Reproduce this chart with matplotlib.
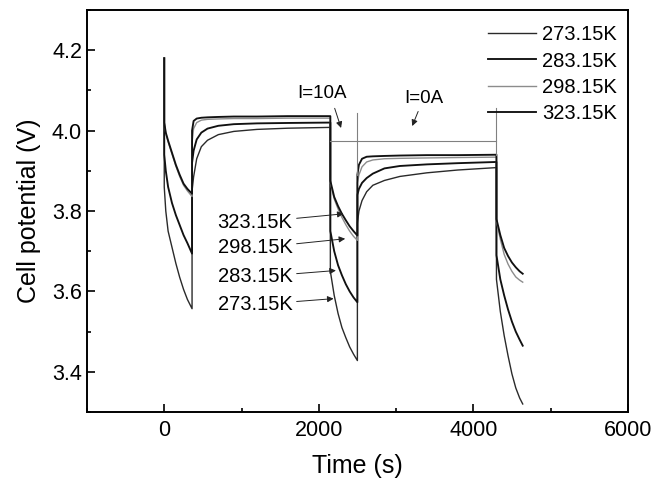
import matplotlib
matplotlib.use("Agg")
import matplotlib.pyplot as plt
from matplotlib.ticker import MultipleLocator

plt.rcParams["font.family"] = ["Liberation Sans", "DejaVu Sans"]

# time axis shared by all curves (repeated times give the vertical steps)
time_s = [0, 0, 20, 50, 100, 150, 200, 250, 300, 360,
          360, 380, 420, 480, 560, 700, 900, 1200, 1600, 2150,
          2150, 2200, 2250, 2300, 2350, 2400, 2450, 2500,
          2500, 2520, 2560, 2620, 2700, 2850, 3050, 3400, 3800, 4300,
          4300, 4350, 4400, 4450, 4500, 4550, 4600, 4640]

v_273 = [4.18, 3.86, 3.80, 3.75, 3.71, 3.67, 3.635, 3.605, 3.58, 3.557,
         3.85, 3.885, 3.93, 3.96, 3.976, 3.99, 3.998, 4.003, 4.006, 4.008,
         3.65, 3.59, 3.545, 3.51, 3.485, 3.462, 3.444, 3.428,
         3.77, 3.80, 3.826, 3.848, 3.864, 3.876, 3.886, 3.895, 3.902, 3.908,
         3.63, 3.55, 3.49, 3.44, 3.395, 3.36, 3.335, 3.32]
v_283 = [4.18, 3.94, 3.90, 3.86, 3.82, 3.79, 3.765, 3.74, 3.72, 3.694,
         3.92, 3.95, 3.978, 3.995, 4.005, 4.012, 4.016, 4.018, 4.019, 4.020,
         3.75, 3.70, 3.665, 3.64, 3.618, 3.60, 3.585, 3.573,
         3.84, 3.855, 3.87, 3.882, 3.893, 3.906, 3.912, 3.916, 3.919, 3.922,
         3.69, 3.63, 3.59, 3.555, 3.525, 3.50, 3.48, 3.465]
v_298 = [4.18, 4.02, 3.993, 3.972, 3.942, 3.912, 3.886, 3.864, 3.85, 3.836,
         3.97, 4.005, 4.020, 4.026, 4.028, 4.029, 4.030, 4.030, 4.031, 4.031,
         3.87, 3.83, 3.805, 3.784, 3.766, 3.75, 3.737, 3.727,
         3.87, 3.89, 3.91, 3.922, 3.927, 3.930, 3.931, 3.932, 3.933, 3.934,
         3.775, 3.73, 3.692, 3.668, 3.65, 3.636, 3.628, 3.623]
v_323 = [4.18, 4.02, 3.995, 3.975, 3.945, 3.915, 3.89, 3.868, 3.855, 3.843,
         4.00, 4.024, 4.030, 4.032, 4.033, 4.034, 4.035, 4.035, 4.036, 4.036,
         3.875, 3.835, 3.812, 3.793, 3.777, 3.762, 3.75, 3.739,
         3.89, 3.915, 3.93, 3.935, 3.936, 3.937, 3.938, 3.939, 3.939, 3.94,
         3.78, 3.74, 3.708, 3.688, 3.672, 3.66, 3.65, 3.644]

labels = ["273.15K", "283.15K", "298.15K", "323.15K"]
series = [v_273, v_283, v_298, v_323]
colors = ["#2a2a2a", "#111111", "#8c8c8c", "#111111"]
widths = [1.0, 1.35, 1.0, 1.35]

# arrow labels on the second pulse: (text anchor), (arrow tip)
arrow_labels = ["323.15K", "298.15K", "283.15K", "273.15K"]
arrow_text_xy = [(1660, 3.772), (1660, 3.708), (1660, 3.636), (1660, 3.567)]
arrow_tip_xy = [(2321, 3.793), (2342, 3.731), (2222, 3.652), (2192, 3.582)]

fig = plt.figure(figsize=(6.56, 4.88), dpi=100)
ax = fig.add_axes([0.1326, 0.1557, 0.8244, 0.8238])

for v, lab, c, w in zip(series, labels, colors, widths):
    ax.plot(time_s, v, color=c, lw=w, label=lab)

# current markers
mark_c = "#808080"
ax.plot([2150, 4300], [3.973, 3.973], color=mark_c, lw=0.8)
ax.plot([2500, 2500], [4.045, 3.89], color=mark_c, lw=0.8)
ax.plot([4300, 4300], [4.055, 3.94], color=mark_c, lw=0.8)

ax.text(2043, 4.092, "I=10A", fontsize=13.5, ha="center", va="center")
ax.annotate("", xy=(2300, 4.0), xytext=(2195, 4.062),
            arrowprops=dict(arrowstyle="-|>", color="#222222", lw=0.7, mutation_scale=9))
ax.text(3365, 4.08, "I=0A", fontsize=13.5, ha="center", va="center")
ax.annotate("", xy=(3196, 4.005), xytext=(3300, 4.054),
            arrowprops=dict(arrowstyle="-|>", color="#222222", lw=0.7, mutation_scale=9))

for lab, txy, tip in zip(arrow_labels, arrow_text_xy, arrow_tip_xy):
    ax.annotate(lab, xy=tip, xytext=txy, fontsize=14.5, ha="right", va="center",
                arrowprops=dict(arrowstyle="-|>", color="#222222", lw=0.7,
                                mutation_scale=9, shrinkA=1, shrinkB=0))

ax.set_xlim(-1000, 6000)
ax.set_ylim(3.3, 4.3)
ax.xaxis.set_major_locator(MultipleLocator(2000))
ax.xaxis.set_minor_locator(MultipleLocator(1000))
ax.yaxis.set_major_locator(MultipleLocator(0.2))
ax.yaxis.set_minor_locator(MultipleLocator(0.1))
ax.tick_params(which="both", direction="in", top=False, right=False, width=1.2,
               labelsize=15.5)
ax.tick_params(which="major", length=6)
ax.tick_params(which="minor", length=3)
ax.tick_params(axis="x", pad=6)
ax.set_xticks([0, 2000, 4000, 6000])
ax.set_yticks([3.4, 3.6, 3.8, 4.0, 4.2])
for sp in ax.spines.values():
    sp.set_linewidth(1.4)

ax.set_xlabel("Time (s)", fontsize=18, labelpad=9)
ax.set_ylabel("Cell potential (V)", fontsize=18, labelpad=8)

ax.legend(loc="upper left", bbox_to_anchor=(0.741, 0.962), frameon=False,
          fontsize=14.5, handlelength=2.4, handletextpad=0.3, labelspacing=0.36,
          borderpad=0, borderaxespad=0)

fig.savefig("out.png", dpi=100)
